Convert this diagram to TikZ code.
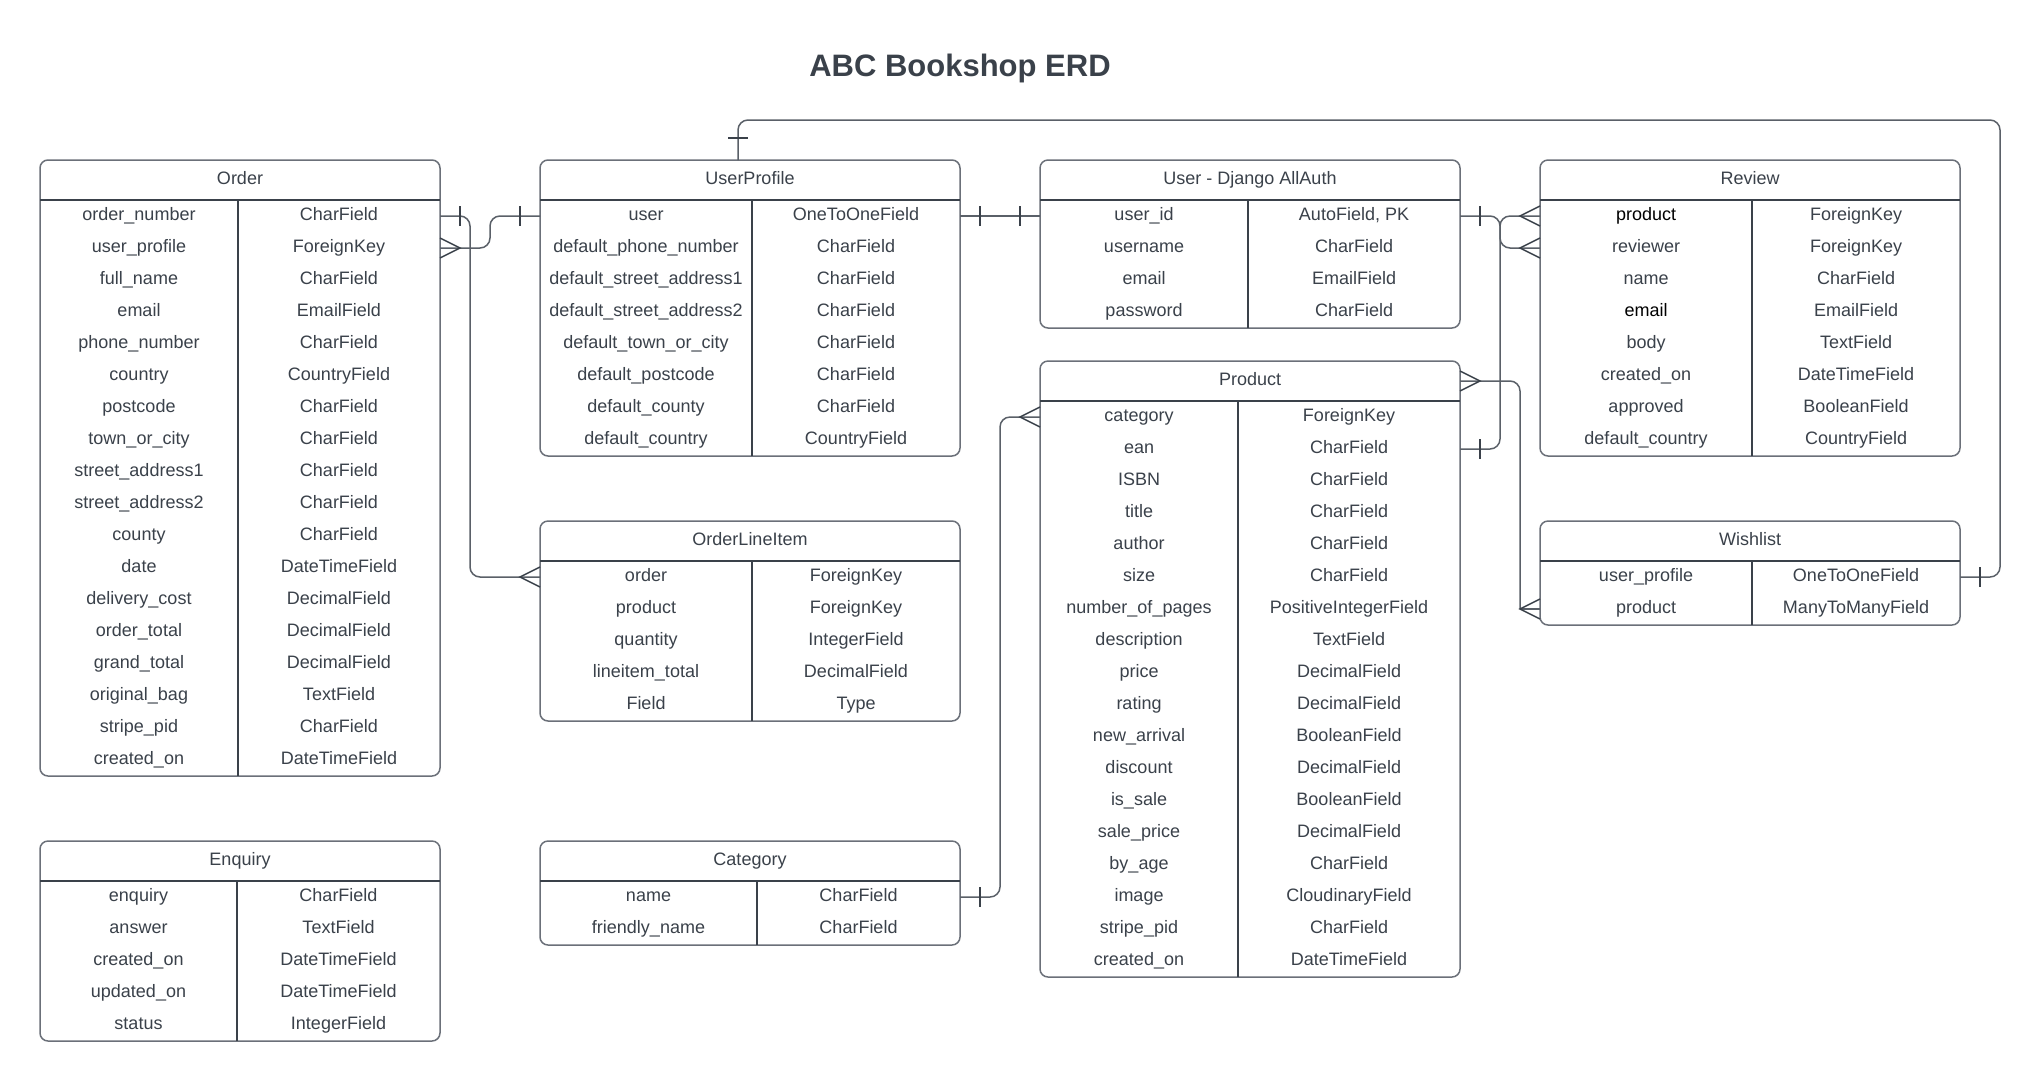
\documentclass[tikz,border=0pt]{standalone}
\usepackage{fontspec}
\setmainfont{Liberation Sans}
\usetikzlibrary{calc}
\definecolor{txt}{HTML}{3A414A}
\definecolor{bord}{HTML}{6B7079}
\definecolor{lin}{HTML}{3A414A}
\definecolor{conc}{HTML}{5A6068}
\tikzset{
  tbox/.style={draw=bord, line width=1.5pt, rounded corners=8pt, inner sep=0pt, outer sep=0pt},
  innerline/.style={draw=lin, line width=1.4pt},
  ctxt/.style={anchor=base, inner sep=0pt, text=txt, font=\fontsize{18}{21}\selectfont},
  conn/.style={draw=conc, line width=1.5pt},
  tk/.style={draw=lin, line width=1.4pt},
}
\newcommand\erdtable[8]{%
  \pgfmathsetmacro\tbw{#4-#2}%
  \pgfmathsetmacro\tbh{40+32*#6}%
  \pgfmathsetmacro\tbhb{#3+40}%
  \pgfmathsetmacro\tbbot{#3+40+32*#6}%
  \pgfmathsetmacro\tbcl{(#2+#5)/2}%
  \pgfmathsetmacro\tbcr{(#5+#4)/2}%
  \pgfmathsetmacro\tbcx{(#2+#4)/2}%
  \node[tbox, minimum width=\tbw pt, minimum height=\tbh pt, anchor=north west] (#1) at (#2,#3) {};
  \node[ctxt] (#1-title) at (\tbcx, #3+24) {#7};
  \draw[innerline] (#2,\tbhb) -- (#4,\tbhb);
  \draw[innerline] (#5,\tbhb) -- (#5,\tbbot);
  \foreach [count=\i from 0] \fa/\fb in {#8} {
    \node[ctxt] (#1-f\i) at (\tbcl, \tbhb+20+32*\i) {\fa};
    \node[ctxt] (#1-t\i) at (\tbcr, \tbhb+20+32*\i) {\fb};
    \coordinate (#1-L\i) at (#2, \tbhb+16+32*\i);
    \coordinate (#1-R\i) at (#4, \tbhb+16+32*\i);
  }%
}
\newcommand\apk{AutoField, PK}
\newcommand\blk[1]{\textcolor{black}{#1}}
% crow's foot pointing out to the right / left of an edge point
\newcommand\crowR[1]{\draw[tk] ([yshift=10pt]#1) -- ([xshift=20pt]#1) -- ([yshift=-10pt]#1);}
\newcommand\crowL[1]{\draw[tk] ([yshift=10pt]#1) -- ([xshift=-20pt]#1) -- ([yshift=-10pt]#1);}
% one-bar: vertical tick on horizontal line, horizontal tick on vertical line
\newcommand\tickV[2]{\draw[tk] ([xshift=#2pt,yshift=10pt]#1) -- ([xshift=#2pt,yshift=-10pt]#1);}
\newcommand\tickH[2]{\draw[tk] ([xshift=-10pt,yshift=#2pt]#1) -- ([xshift=10pt,yshift=#2pt]#1);}
\begin{document}
\begin{tikzpicture}[x=1pt,y=-1pt]
\fill[white] (0,0) rectangle (2041,1080);
\useasboundingbox (0,0) rectangle (2041,1080);

\node[anchor=base, text=txt, font=\fontsize{31}{37}\selectfont\bfseries] (title) at (960,76) {ABC Bookshop ERD};

\erdtable{ord}{40}{160}{440}{238}{18}{Order}{order\_number/CharField, user\_profile/ForeignKey, full\_name/CharField, email/EmailField, phone\_number/CharField, country/CountryField, postcode/CharField, town\_or\_city/CharField, street\_address1/CharField, street\_address2/CharField, county/CharField, date/DateTimeField, delivery\_cost/DecimalField, order\_total/DecimalField, grand\_total/DecimalField, original\_bag/TextField, stripe\_pid/CharField, created\_on/DateTimeField}

\erdtable{up}{540}{160}{960}{752}{8}{UserProfile}{user/OneToOneField, default\_phone\_number/CharField, default\_street\_address1/CharField, default\_street\_address2/CharField, default\_town\_or\_city/CharField, default\_postcode/CharField, default\_county/CharField, default\_country/CountryField}

\erdtable{usr}{1040}{160}{1460}{1248}{4}{User - Django AllAuth}{user\_id/\apk, username/CharField, email/EmailField, password/CharField}

\erdtable{rev}{1540}{160}{1960}{1752}{8}{Review}{\blk{product}/ForeignKey, reviewer/ForeignKey, name/CharField, \blk{email}/EmailField, body/TextField, created\_on/DateTimeField, approved/BooleanField, default\_country/CountryField}

\erdtable{prod}{1040}{361}{1460}{1238}{18}{Product}{category/ForeignKey, ean/CharField, ISBN/CharField, title/CharField, author/CharField, size/CharField, number\_of\_pages/PositiveIntegerField, description/TextField, price/DecimalField, rating/DecimalField, new\_arrival/BooleanField, discount/DecimalField, is\_sale/BooleanField, sale\_price/DecimalField, by\_age/CharField, image/CloudinaryField, stripe\_pid/CharField, created\_on/DateTimeField}

\erdtable{oli}{540}{521}{960}{752}{5}{OrderLineItem}{order/ForeignKey, product/ForeignKey, quantity/IntegerField, lineitem\_total/DecimalField, Field/Type}

\erdtable{wl}{1540}{521}{1960}{1752}{2}{Wishlist}{user\_profile/OneToOneField, product/ManyToManyField}

\erdtable{enq}{40}{841}{440}{237}{5}{Enquiry}{enquiry/CharField, answer/TextField, created\_on/DateTimeField, updated\_on/DateTimeField, status/IntegerField}

\erdtable{cat}{540}{841}{960}{757}{2}{Category}{name/CharField, friendly\_name/CharField}

% bend coordinates
\coordinate (b1) at (470,0);
\coordinate (b2) at (490,0);
\coordinate (b5) at (1500,0);
\coordinate (b7) at (1520,0);
\coordinate (b8) at (1000,0);
\coordinate (upT) at (738,160);
\coordinate (cTR) at (2000,120);
\coordinate (prodH) at (1460,381);

% Order.order_number -> OrderLineItem.order
\draw[conn, rounded corners=10pt] (ord-R0) -| (b1 |- oli-L0) -- (oli-L0);
\tickV{ord-R0}{20}
\crowL{oli-L0}

% Order.user_profile -> UserProfile.user
\draw[conn, rounded corners=10pt] (ord-R1) -| (b2 |- up-L0) -- (up-L0);
\crowR{ord-R1}
\tickV{up-L0}{-20}

% UserProfile.user -> User.user_id
\draw[conn] (up-R0) -- (usr-L0);
\tickV{up-R0}{20}
\tickV{usr-L0}{-20}

% UserProfile -> Wishlist.user_profile
\draw[conn, rounded corners=10pt] (upT) |- (cTR) |- (wl-R0);
\tickH{upT}{22}
\tickV{wl-R0}{20}

% User.user_id -> Review.reviewer
\draw[conn, rounded corners=10pt] (usr-R0) -| (b5 |- rev-L1) -- (rev-L1);
\tickV{usr-R0}{20}
\crowL{rev-L1}

% Product.ean -> Review.product
\draw[conn, rounded corners=10pt] (prod-R1) -| (b5 |- rev-L0) -- (rev-L0);
\tickV{prod-R1}{20}
\crowL{rev-L0}

% Product -> Wishlist.product
\draw[conn, rounded corners=10pt] (prodH) -| (b7 |- wl-L1);
\draw[conn] (b7 |- wl-L1) -- (wl-L1);
\crowR{prodH}
\crowL{wl-L1}

% Category.name -> Product.category
\draw[conn, rounded corners=10pt] (cat-R0) -| (b8 |- prod-L0) -- (prod-L0);
\tickV{cat-R0}{20}
\crowL{prod-L0}
\end{tikzpicture}
\end{document}
